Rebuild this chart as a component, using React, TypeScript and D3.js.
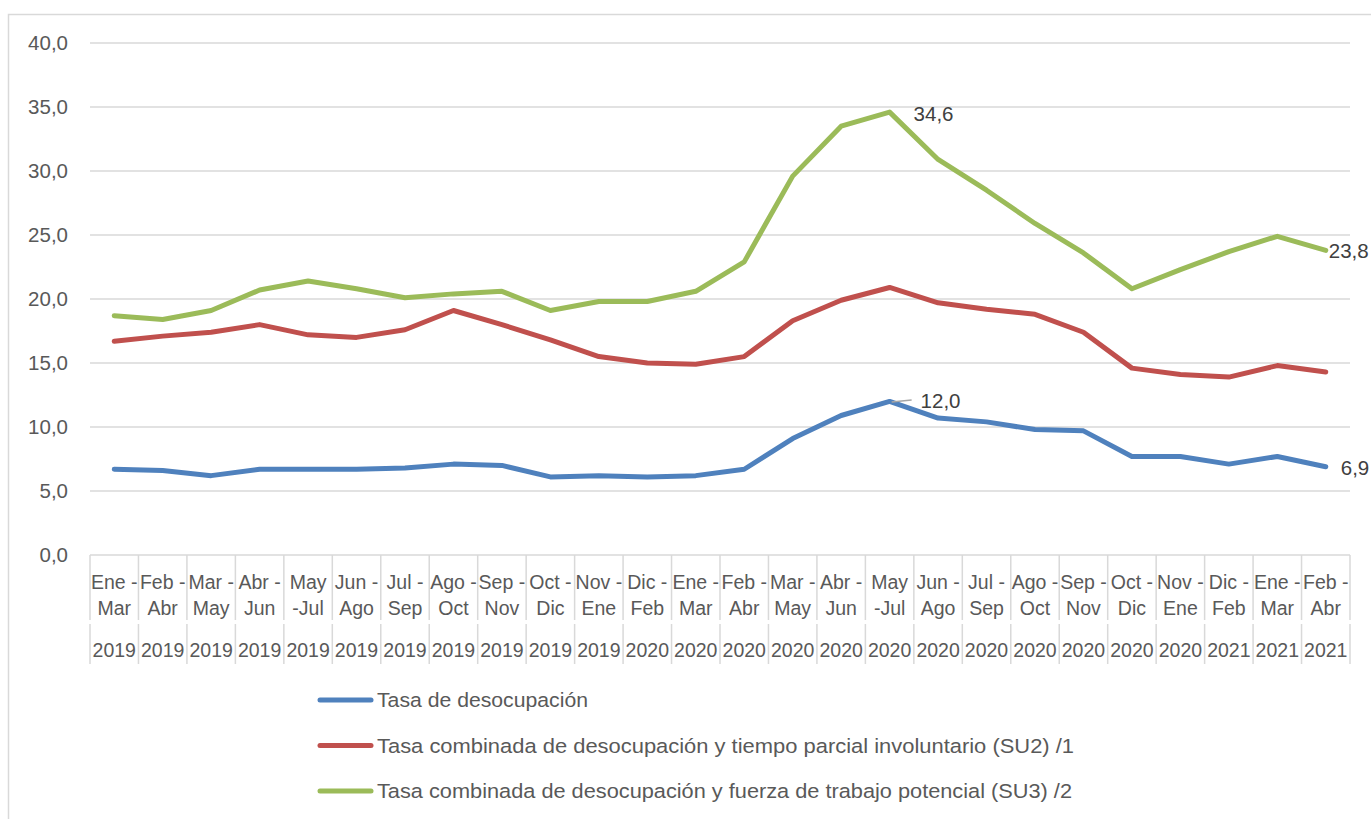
import React from "react";
import * as d3 from "d3";

// trimestres móviles
const periodTop = [
  "Ene -", "Feb -", "Mar -", "Abr -", "May", "Jun -", "Jul -", "Ago -", "Sep -", "Oct -", "Nov -",
  "Dic -", "Ene -", "Feb -", "Mar -", "Abr -", "May", "Jun -", "Jul -", "Ago -", "Sep -", "Oct -", "Nov -",
  "Dic -", "Ene -", "Feb -",
];
const periodBottom = [
  "Mar", "Abr", "May", "Jun", "-Jul", "Ago", "Sep", "Oct", "Nov", "Dic", "Ene",
  "Feb", "Mar", "Abr", "May", "Jun", "-Jul", "Ago", "Sep", "Oct", "Nov", "Dic", "Ene",
  "Feb", "Mar", "Abr",
];
const years = [
  "2019", "2019", "2019", "2019", "2019", "2019", "2019", "2019", "2019", "2019", "2019",
  "2020", "2020", "2020", "2020", "2020", "2020", "2020", "2020", "2020", "2020", "2020", "2020",
  "2021", "2021", "2021",
];

const tasaDesocupacion = [
  6.7, 6.6, 6.2, 6.7, 6.7, 6.7, 6.8, 7.1, 7.0, 6.1, 6.2,
  6.1, 6.2, 6.7, 9.1, 10.9, 12.0, 10.7, 10.4, 9.8, 9.7, 7.7, 7.7,
  7.1, 7.7, 6.9,
];
const tasaSU2 = [
  16.7, 17.1, 17.4, 18.0, 17.2, 17.0, 17.6, 19.1, 18.0, 16.8, 15.5,
  15.0, 14.9, 15.5, 18.3, 19.9, 20.9, 19.7, 19.2, 18.8, 17.4, 14.6, 14.1,
  13.9, 14.8, 14.3,
];
const tasaSU3 = [
  18.7, 18.4, 19.1, 20.7, 21.4, 20.8, 20.1, 20.4, 20.6, 19.1, 19.8,
  19.8, 20.6, 22.9, 29.6, 33.5, 34.6, 30.9, 28.5, 25.9, 23.6, 20.8, 22.3,
  23.7, 24.9, 23.8,
];

const seriesNames = [
  "Tasa de desocupación",
  "Tasa combinada de desocupación y tiempo parcial involuntario (SU2) /1",
  "Tasa combinada de desocupación y fuerza de trabajo potencial (SU3) /2",
];
const colors = ["#4F81BD", "#C0504D", "#9BBB59"];
// ancho de cada texto de la leyenda en la imagen
const legendWidths = [211, 697, 695];

const yTicks = [0, 5, 10, 15, 20, 25, 30, 35, 40];

const W = 1371;
const H = 819;
const font = "'Liberation Sans', Arial, sans-serif";

const fmt = (v: number) => d3.format(".1f")(v).replace(".", ",");

export default function App() {
  const left = 90;
  const right = 1350;
  const top = 43;
  const bottom = 555;

  const x = d3
    .scaleBand<number>()
    .domain(d3.range(years.length))
    .range([left, right])
    .padding(0);
  const cx = (i: number) => (x(i) as number) + x.bandwidth() / 2;
  const y = d3.scaleLinear().domain([0, 40]).range([bottom, top]);

  const line = d3
    .line<number>()
    .x((_, i) => cx(i))
    .y((d) => y(d));

  const allSeries = [tasaDesocupacion, tasaSU2, tasaSU3];
  const last = years.length - 1;
  const peak = 16;

  return (
    <svg
      width={W}
      height={H}
      style={{ position: "absolute", left: 0, top: 0, background: "#fff" }}
      fontFamily={font}
    >
      <rect x={8.5} y={14.5} width={W + 10} height={H + 10} fill="#fff" stroke="#D9D9D9" strokeWidth={1.5} />

      {/* grid + eje y */}
      {yTicks.map((t) => (
        <g key={t}>
          <line x1={left} x2={right} y1={y(t)} y2={y(t)} stroke="#D9D9D9" strokeWidth={1.5} />
          <text x={68} y={y(t) + 7} textAnchor="end" fontSize={20.5} fill="#595959">
            {fmt(t)}
          </text>
        </g>
      ))}

      {/* eje x multinivel */}
      {d3.range(years.length + 1).map((i) => {
        const xx = i === years.length ? right : (x(i) as number);
        return (
          <g key={"s" + i}>
            <line x1={xx} x2={xx} y1={bottom} y2={620} stroke="#D9D9D9" strokeWidth={1.5} />
            <line x1={xx} x2={xx} y1={624} y2={664} stroke="#D9D9D9" strokeWidth={1.5} />
          </g>
        );
      })}
      {years.map((yr, i) => (
        <g key={"c" + i} fontSize={19.5} fill="#595959" textAnchor="middle">
          <text x={cx(i)} y={589}>{periodTop[i]}</text>
          <text x={cx(i)} y={615}>{periodBottom[i]}</text>
          <text x={cx(i)} y={657}>{yr}</text>
        </g>
      ))}

      {/* series */}
      {allSeries.map((s, k) => (
        <path
          key={k}
          d={line(s) as string}
          fill="none"
          stroke={colors[k]}
          strokeWidth={5}
          strokeLinejoin="round"
          strokeLinecap="round"
        />
      ))}

      {/* etiquetas de datos */}
      <g fontSize={20.5} fill="#404040">
        <text x={cx(peak) + 24} y={y(tasaSU3[peak]) + 9}>{fmt(tasaSU3[peak])}</text>
        <line
          x1={cx(peak) + 2}
          y1={y(tasaDesocupacion[peak]) + 0.5}
          x2={cx(peak) + 22}
          y2={y(tasaDesocupacion[peak]) - 1.5}
          stroke="#A6A6A6"
          strokeWidth={1.5}
        />
        <text x={cx(peak) + 31} y={y(tasaDesocupacion[peak]) + 7}>{fmt(tasaDesocupacion[peak])}</text>
        <text x={cx(last) + 3} y={y(tasaSU3[last]) + 8}>{fmt(tasaSU3[last])}</text>
        <text x={cx(last) + 15} y={y(tasaDesocupacion[last]) + 8}>{fmt(tasaDesocupacion[last])}</text>
      </g>

      {/* leyenda */}
      {seriesNames.map((name, k) => {
        const ly = 700 + k * 45.5;
        return (
          <g key={"l" + k}>
            <line x1={320} x2={371} y1={ly} y2={ly} stroke={colors[k]} strokeWidth={5} strokeLinecap="round" />
            <text
              x={377}
              y={ly + 7}
              fontSize={20.5}
              fill="#595959"
              textLength={legendWidths[k]}
              lengthAdjust="spacingAndGlyphs"
            >
              {name}
            </text>
          </g>
        );
      })}
    </svg>
  );
}
